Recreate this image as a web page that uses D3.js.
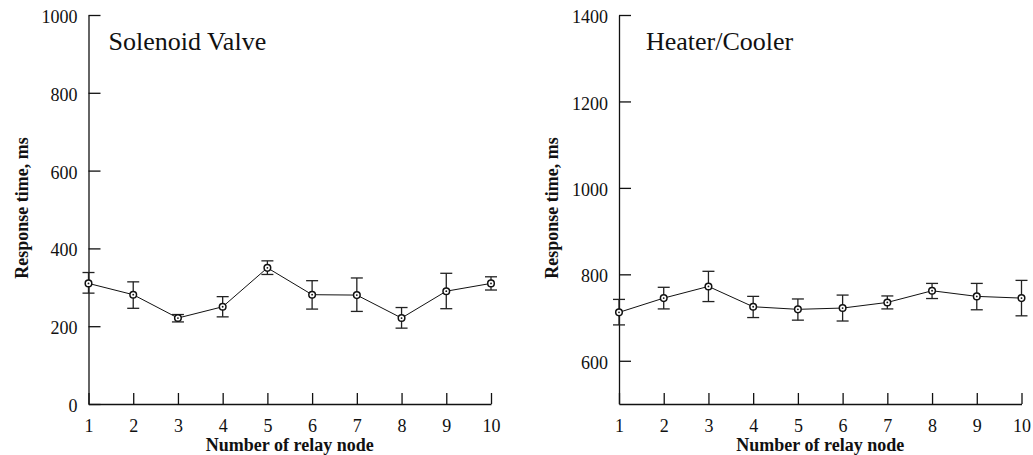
<!DOCTYPE html>
<html>
<head>
<meta charset="utf-8">
<script src="https://cdn.jsdelivr.net/npm/d3@7/dist/d3.min.js"></script>
</head>
<body style="margin:0">
<svg width="1033" height="455"></svg>
<script>
// relay node numbers (x axis)
var nodes = [1, 2, 3, 4, 5, 6, 7, 8, 9, 10];

// Solenoid valve: mean response time and error bar ends (ms)
var valveMean = [310, 281, 221, 250, 350, 281, 280, 221, 290, 310];
var valveLow  = [285, 246, 211, 224, 333, 244, 238, 195, 245, 293];
var valveHigh = [338, 314, 230, 276, 368, 317, 324, 248, 336, 327];
var valveTicks = [0, 200, 400, 600, 800, 1000];

// Heater/Cooler: mean response time and error bar ends (ms)
var heaterMean = [712, 745, 772, 725, 719, 722, 735, 762, 749, 745];
var heaterLow  = [683, 720, 737, 700, 694, 692, 720, 744, 718, 704];
var heaterHigh = [742, 770, 807, 749, 743, 752, 750, 779, 779, 786];
var heaterTicks = [600, 800, 1000, 1200, 1400];

var svg = d3.select("svg");

// text helper: serif face set through the font shorthand
function label(sel, size, bold) {
    return sel.style("font", (bold ? "bold " : "") + size + "px Tinos, 'Liberation Serif'")
        .attr("fill", "#111");
}

function drawPanel(opt) {
    var x = d3.scaleLinear().domain([1, 10]).range([opt.left, opt.right]),
        y = d3.scaleLinear().domain(opt.yDomain).range([404, 15]);

    var g = svg.append("g");

    // y axis, ticks pointing inward
    var gy = g.append("g")
        .attr("transform", "translate(" + opt.left + ",0)")
        .call(d3.axisLeft(y).tickValues(opt.ticks).tickFormat(d3.format("d"))
            .tickSize(-12).tickSizeOuter(0).tickPadding(11));
    label(gy.selectAll("text"), 18).attr("dy", "0.42em");

    // x axis
    var gx = g.append("g")
        .attr("transform", "translate(0,404)")
        .call(d3.axisBottom(x).tickValues(nodes).tickFormat(d3.format("d"))
            .tickSize(-11).tickSizeOuter(0).tickPadding(15));
    label(gx.selectAll("text"), 18);

    g.selectAll(".domain, .tick line").attr("stroke", "#111").attr("stroke-width", 1.3);

    // axis titles
    label(g.append("text"), 18, true)
        .attr("transform", "translate(" + (opt.left - 61) + ",208) rotate(-90)")
        .attr("text-anchor", "middle")
        .text("Response time, ms");

    label(g.append("text"), 18, true)
        .attr("x", (opt.left + opt.right) / 2)
        .attr("y", 451)
        .attr("text-anchor", "middle")
        .text("Number of relay node");

    // panel title
    label(g.append("text"), 26)
        .attr("x", opt.left + opt.titleDx)
        .attr("y", 50)
        .text(opt.title);

    var data = nodes.map(function (n, i) {
        return { n: n, m: opt.mean[i], lo: opt.low[i], hi: opt.high[i] };
    });

    // error bars
    var eb = g.selectAll(".err").data(data).enter().append("g")
        .attr("class", "err")
        .attr("stroke", "#222")
        .attr("stroke-width", 1.3);
    eb.append("line")
        .attr("x1", function (d) { return x(d.n); })
        .attr("x2", function (d) { return x(d.n); })
        .attr("y1", function (d) { return y(d.lo); })
        .attr("y2", function (d) { return y(d.hi); });
    eb.append("line")
        .attr("x1", function (d) { return x(d.n) - 6; })
        .attr("x2", function (d) { return x(d.n) + 6; })
        .attr("y1", function (d) { return y(d.lo); })
        .attr("y2", function (d) { return y(d.lo); });
    eb.append("line")
        .attr("x1", function (d) { return x(d.n) - 6; })
        .attr("x2", function (d) { return x(d.n) + 6; })
        .attr("y1", function (d) { return y(d.hi); })
        .attr("y2", function (d) { return y(d.hi); });

    // mean line
    g.append("path")
        .datum(data)
        .attr("fill", "none")
        .attr("stroke", "#111")
        .attr("stroke-width", 1)
        .attr("d", d3.line().x(function (d) { return x(d.n); }).y(function (d) { return y(d.m); }));

    // markers: open circle with a dot
    g.selectAll(".pt").data(data).enter().append("circle")
        .attr("class", "pt")
        .attr("cx", function (d) { return x(d.n); })
        .attr("cy", function (d) { return y(d.m); })
        .attr("r", 3.3)
        .attr("fill", "#fff")
        .attr("stroke", "#111")
        .attr("stroke-width", 1.5);
    g.selectAll(".dot").data(data).enter().append("circle")
        .attr("class", "dot")
        .attr("cx", function (d) { return x(d.n); })
        .attr("cy", function (d) { return y(d.m); })
        .attr("r", 0.9)
        .attr("fill", "#111");
}

drawPanel({
    left: 88.5, right: 491, yDomain: [0, 1000], ticks: valveTicks,
    mean: valveMean, low: valveLow, high: valveHigh,
    title: "Solenoid Valve", titleDx: 20
});

drawPanel({
    left: 619, right: 1021.5, yDomain: [500, 1400], ticks: heaterTicks,
    mean: heaterMean, low: heaterLow, high: heaterHigh,
    title: "Heater/Cooler", titleDx: 27
});
</script>
</body>
</html>
